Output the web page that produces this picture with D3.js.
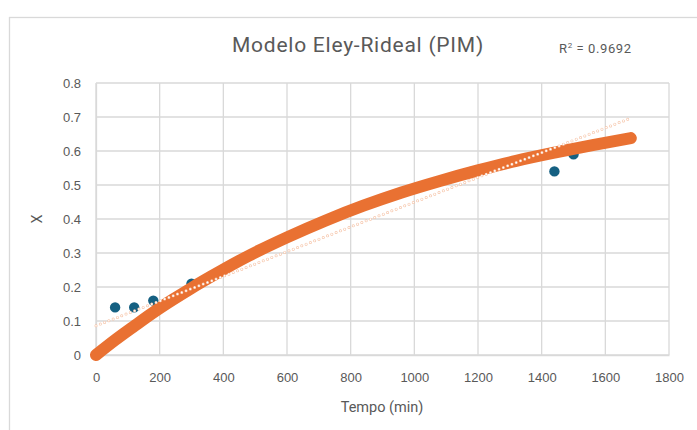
<!DOCTYPE html>
<html><head><meta charset="utf-8">
<script src="https://cdn.jsdelivr.net/npm/d3@7"></script>
<style>
html,body{margin:0;padding:0;background:#fff;overflow:hidden;}
svg{display:block;}
</style></head>
<body>
<svg id="chart" width="697" height="430"></svg>
<script>
// Observed data (blue points)
const obsTime = [60, 120, 180, 300, 1440, 1500];
const obsX = [0.14, 0.14, 0.16, 0.21, 0.54, 0.59];
// Model curve (orange)
const modelTime = [0, 60, 120, 180, 240, 300, 360, 480, 600, 720, 840, 960, 1080, 1200, 1320, 1440, 1560, 1680];
const modelX = [0, 0.044, 0.085, 0.125, 0.162, 0.197, 0.230, 0.292, 0.346, 0.395, 0.439, 0.478, 0.512, 0.543, 0.571, 0.595, 0.617, 0.638];
// Linear trendline endpoints
const trendTime = [0, 1680];
const trendX = [0.086, 0.697];
const xTicks = [0, 200, 400, 600, 800, 1000, 1200, 1400, 1600, 1800];
const yTicks = [0, 0.1, 0.2, 0.3, 0.4, 0.5, 0.6, 0.7, 0.8];
const titleText = "Modelo Eley-Rideal (PIM)";
const r2Text = "0.9692";

const svg = d3.select("#chart");
const x = d3.scaleLinear().domain([0, 1800]).range([96, 669]);
const y = d3.scaleLinear().domain([0, 0.8]).range([355, 83]);
const grid = "#d9d9d9";
const txt = "#595959";
const font = "Roboto, Liberation Sans, sans-serif";

// chart border
svg.append("rect").attr("x", 9.5).attr("y", 17.5).attr("width", 720).attr("height", 440)
  .attr("fill", "none").attr("stroke", grid).attr("stroke-width", 1.3);

// gridlines
svg.append("g").selectAll("line").data(yTicks).join("line")
  .attr("x1", x(0)).attr("x2", x(1800)).attr("y1", d => y(d)).attr("y2", d => y(d))
  .attr("stroke", grid).attr("stroke-width", 1.3);
svg.append("g").selectAll("line").data(xTicks).join("line")
  .attr("y1", y(0)).attr("y2", y(0.8)).attr("x1", d => x(d)).attr("x2", d => x(d))
  .attr("stroke", grid).attr("stroke-width", 1.3);

// axes (labels only)
const xAxis = d3.axisBottom(x).tickValues(xTicks).tickSize(0).tickPadding(18).tickFormat(d3.format("d"));
const gx = svg.append("g").attr("transform", `translate(0,${y(0)})`).call(xAxis);
gx.select(".domain").attr("stroke", grid).attr("stroke-width", 1.3);
gx.selectAll("text").attr("fill", txt).attr("font-family", "Liberation Sans, Arial, sans-serif").attr("font-size", 13);

const yAxis = d3.axisLeft(y).tickValues(yTicks).tickSize(0).tickPadding(15).tickFormat(d => d === 0 ? "0" : d3.format(".1f")(d));
const gy = svg.append("g").attr("transform", `translate(${x(0)},0)`).call(yAxis);
gy.select(".domain").attr("stroke", grid).attr("stroke-width", 1.3);
gy.selectAll("text").attr("fill", txt).attr("font-family", "Liberation Sans, Arial, sans-serif").attr("font-size", 13);

// observed points
svg.append("g").selectAll("circle").data(obsTime.map((t, i) => [t, obsX[i]])).join("circle")
  .attr("cx", d => x(d[0])).attr("cy", d => y(d[1])).attr("r", 5.2).attr("fill", "#156082");

// model curve
const line = d3.line().x(d => x(d[0])).y(d => y(d[1])).curve(d3.curveMonotoneX);
svg.append("path").datum(modelTime.map((t, i) => [t, modelX[i]]))
  .attr("d", line).attr("fill", "none").attr("stroke", "#e97132")
  .attr("stroke-width", 12).attr("stroke-linecap", "round").attr("stroke-linejoin", "round");

// trendline (dotted rings)
const trendData = trendTime.map((t, i) => [t, trendX[i]]);
const tl = d3.line().x(d => x(d[0])).y(d => y(d[1]));
svg.append("path").datum(trendData).attr("d", tl)
  .attr("fill", "none").attr("stroke", "#f6c4a8").attr("stroke-width", 3)
  .attr("stroke-dasharray", "0,4.6").attr("stroke-linecap", "round");
svg.append("path").datum(trendData).attr("d", tl)
  .attr("fill", "none").attr("stroke", "#ffffff").attr("stroke-width", 1.7)
  .attr("stroke-dasharray", "0,4.6").attr("stroke-linecap", "round");

// title
svg.append("text").attr("x", 358).attr("y", 52).attr("text-anchor", "middle")
  .attr("font-family", font).attr("font-size", 21).attr("letter-spacing", 0.75)
  .attr("fill", txt).text(titleText);

// R^2
const r2 = svg.append("text").attr("x", 559).attr("y", 52.5)
  .attr("font-family", font).attr("font-size", 13).attr("letter-spacing", 0.6).attr("fill", txt);
r2.append("tspan").text("R");
r2.append("tspan").attr("dy", -5).attr("font-size", 8).text("2");
r2.append("tspan").attr("dy", 5).text(" = " + r2Text);

// axis titles
svg.append("text").attr("x", 382).attr("y", 412).attr("text-anchor", "middle")
  .attr("font-family", font).attr("font-size", 14.5)
  .attr("fill", txt).text("Tempo (min)");
svg.append("text").attr("transform", "translate(42,219) rotate(-90)").attr("text-anchor", "middle")
  .attr("font-family", font).attr("font-size", 14.5)
  .attr("fill", txt).text("X");
</script>
</body></html>
